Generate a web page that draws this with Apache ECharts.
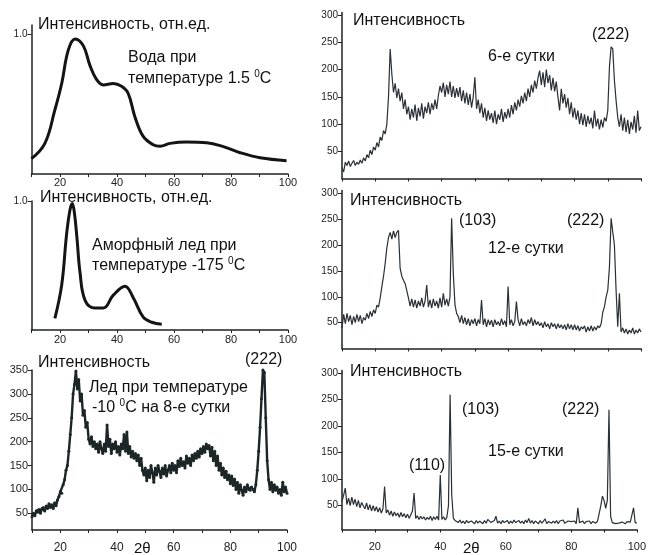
<!DOCTYPE html>
<html>
<head>
<meta charset="utf-8">
<script src="https://cdn.jsdelivr.net/npm/echarts@6/dist/echarts.min.js"></script>
<style>
  html, body { margin: 0; padding: 0; background: #fff; }
  #main { width: 649px; height: 555px; }
</style>
</head>
<body>
<div id="main"></div>
<script>
// liquid water, 1.5 C (smooth curve)
var waterX = [10, 14.7, 18.2, 20.6, 22.9, 25.3, 28.2, 30.5, 32.8, 35.2, 38.7, 41.6, 43.9, 46.3, 49.2, 52.7, 55.1, 58.6, 64.4, 71.5, 77.3, 83.2, 90.2, 99.5];
var waterY = [0.11, 0.22, 0.46, 0.65, 0.89, 0.97, 0.92, 0.78, 0.68, 0.64, 0.65, 0.63, 0.58, 0.41, 0.27, 0.21, 0.20, 0.22, 0.23, 0.225, 0.197, 0.153, 0.117, 0.096];

// amorphous ice, -175 C
var amorphX = [18.2, 20.6, 22.3, 23.5, 24.3, 25.1, 26.0, 27.0, 28.8, 32.3, 35.2, 38.7, 42.8, 45.7, 49.2, 52.2, 55.7];
var amorphY = [0.09, 0.35, 0.74, 0.93, 0.98, 0.9, 0.7, 0.45, 0.23, 0.17, 0.17, 0.27, 0.34, 0.25, 0.10, 0.06, 0.045];

// diffractograms are sampled every 0.5 deg from 10 to 100
var twoTheta = [];
for (var k = 0; k <= 180; k++) twoTheta.push(10 + k * 0.5);

// ice -10 C, 8th day
var day8 = [
  43, 50, 45, 55, 52, 58, 50, 60, 62, 55,
  65, 60, 70, 62, 68, 60, 72, 66, 78, 85,
  95, 92, 110, 120, 140, 150, 180, 215, 250, 300,
  320, 348, 310, 330, 285, 300, 255, 265, 230, 240,
  205, 195, 210, 190, 200, 185, 195, 178, 200, 185,
  175, 195, 180, 235, 190, 205, 175, 195, 185, 200,
  178, 190, 172, 195, 185, 215, 180, 220, 175, 190,
  168, 180, 165, 175, 160, 172, 150, 165, 140, 130,
  145, 118, 140, 125, 150, 135, 115, 145, 130, 150,
  138, 125, 145, 132, 150, 128, 140, 150, 135, 155,
  140, 150, 135, 160, 148, 165, 150, 158, 145, 170,
  155, 165, 150, 172, 160, 175, 165, 180, 168, 185,
  175, 190, 178, 195, 185, 192, 170, 188, 160, 180,
  150, 170, 140, 155, 130, 145, 125, 138, 120, 130,
  112, 128, 108, 122, 100, 115, 92, 110, 98, 88,
  105, 95, 110, 100, 98, 105, 100, 95, 110, 140,
  180, 230, 290, 350, 345, 250, 160, 120, 100, 115,
  95, 110, 98, 105, 92, 100, 88, 115, 95, 105,
  92
];

// 6th day
var day6 = [
  20, 12, 30, 24, 32, 22, 28, 33, 24, 30,
  26, 34, 28, 38, 32, 44, 38, 52, 44, 58,
  52, 66, 58, 76, 70, 88, 82, 100, 150, 238,
  192, 158, 175, 148, 165, 142, 158, 128, 145, 118,
  132, 108, 128, 112, 136, 106, 130, 114, 138, 110,
  132, 120, 140, 118, 138, 126, 145, 128, 152, 170,
  158, 176, 150, 172, 155, 178, 150, 170, 148, 166,
  150, 168, 142, 162, 138, 158, 135, 155, 130, 150,
  186, 128, 145, 120, 138, 112, 130, 106, 125, 108,
  120, 102, 125, 100, 118, 108, 128, 104, 122, 110,
  128, 112, 135, 118, 140, 125, 145, 132, 152, 138,
  158, 142, 165, 150, 172, 158, 180, 165, 185, 198,
  172, 195, 168, 200, 175, 190, 162, 185, 160, 178,
  150, 125, 165, 138, 155, 130, 148, 118, 140, 112,
  130, 108, 125, 100, 120, 98, 118, 95, 115, 100,
  112, 92, 125, 96, 110, 90, 108, 94, 112, 105,
  125, 205, 242, 238, 180, 143, 112, 95, 118, 88,
  112, 85, 108, 82, 104, 90, 115, 84, 125, 88,
  95
];

// 12th day
var day12 = [
  40, 66, 48, 68, 52, 64, 46, 62, 50, 66,
  52, 64, 48, 60, 55, 68, 58, 72, 62, 75,
  68, 84, 80, 98, 120, 140, 165, 195, 215, 225,
  212, 228, 215, 225, 229, 155, 140, 132, 126, 112,
  98, 82, 96, 80, 94, 78, 92, 82, 98, 80,
  92, 123, 80, 94, 78, 96, 82, 92, 78, 98,
  80, 107, 84, 96, 82, 100, 252, 146, 85, 68,
  62, 50, 64, 48, 60, 46, 58, 44, 56, 48,
  58, 44, 56, 48, 94, 46, 58, 42, 56, 46,
  55, 42, 56, 46, 52, 44, 58, 46, 54, 42,
  120, 46, 56, 44, 52, 91, 56, 44, 58, 46,
  52, 44, 56, 48, 60, 44, 56, 46, 52, 44,
  50, 40, 52, 42, 48, 38, 50, 42, 48, 38,
  48, 40, 46, 38, 46, 36, 48, 38, 46, 36,
  46, 36, 44, 34, 42, 38, 44, 32, 42, 34,
  44, 34, 42, 36, 44, 40, 48, 70, 81, 100,
  113, 158, 252, 250, 200, 113, 42, 107, 32, 40,
  30, 38, 28, 36, 30, 40, 28, 36, 30, 38,
  32
];

// 15th day
var day15 = [
  58, 70, 83, 52, 64, 50, 66, 52, 62, 48,
  60, 46, 56, 50, 44, 55, 42, 52, 40, 50,
  40, 48, 38, 46, 36, 44, 86, 36, 42, 32,
  40, 30, 38, 31, 36, 28, 37, 29, 35, 27,
  34, 26, 33, 40, 74, 26, 31, 24, 30, 25,
  29, 23, 28, 24, 30, 22, 29, 24, 30, 23,
  108, 24, 29, 23, 28, 50, 259, 70, 26, 22,
  22, 18, 23, 17, 21, 16, 22, 18, 19, 21,
  20, 16, 22, 17, 21, 18, 16, 22, 17, 24,
  27, 18, 16, 22, 30, 17, 21, 16, 22, 18,
  17, 22, 16, 21, 17, 23, 18, 16, 22, 17,
  21, 16, 23, 18, 26, 17, 22, 16, 21, 18,
  16, 22, 17, 21, 25, 16, 20, 22, 17, 21,
  17, 22, 16, 21, 18, 23, 17, 16, 21, 18,
  20, 17, 21, 16, 46, 18, 17, 21, 16, 20,
  17, 21, 16, 20, 22, 17, 21, 35, 50, 68,
  60, 45, 60, 231, 30, 18, 17, 16, 19, 17,
  16, 19, 17, 16, 20, 17, 19, 16, 46, 18,
  17
];

var countTicks = [50, 100, 150, 200, 250, 300];
var countTicksLeft = [50, 100, 150, 200, 250, 300, 350];
var relTicks = [1.0];

function pairs(xs, ys) {
  return xs.map(function (x, i) { return [x, ys[i]]; });
}

var chart = echarts.init(document.getElementById('main'));

var fontFam = '"Liberation Sans", Arial, sans-serif';
var axisCol = '#1f2326';

function xAx(idx, labels, margin, size) {
  return {
    type: 'value', gridIndex: idx, min: 10, max: 100, interval: 10,
    axisLine: { lineStyle: { color: axisCol, width: 1.5 } },
    axisTick: { length: 3, lineStyle: { color: axisCol } },
    splitLine: { show: false },
    axisLabel: {
      show: labels, margin: margin, fontSize: size || 11, color: '#222', fontFamily: fontFam,
      formatter: function (v) { return v % 20 === 0 ? String(v) : ''; }
    }
  };
}

function yAx(idx, min, max, ticks, fmt, size) {
  return {
    type: 'value', gridIndex: idx, min: min, max: max,
    axisLine: { show: true, lineStyle: { color: axisCol, width: 1.5 } },
    axisTick: { show: true, length: 4, customValues: ticks, lineStyle: { color: axisCol } },
    splitLine: { show: false },
    axisLabel: {
      customValues: ticks, margin: 4, fontSize: size || 10, color: '#222', fontFamily: fontFam,
      formatter: fmt
    }
  };
}

function txt(x, y, s, size, extra) {
  var st = { text: s, x: x, y: y, fill: '#111', font: (size || 16) + 'px ' + fontFam, verticalAlign: 'middle' };
  if (extra) st.rich = extra;
  return { type: 'text', style: st, z: 100 };
}

var sup = { s: { fontSize: 10, fontFamily: fontFam, padding: [0, 0, 10, 0], fill: '#111' } };

chart.setOption({
  animation: false,
  grid: [
    { left: 31.5, top: 25, width: 256.5, height: 149 },
    { left: 31.5, top: 201, width: 256.5, height: 129 },
    { left: 32, top: 370, width: 255, height: 160 },
    { left: 342, top: 12.5, width: 299, height: 166 },
    { left: 342, top: 190.5, width: 299, height: 158 },
    { left: 342, top: 370.5, width: 299, height: 159 }
  ],
  xAxis: [
    xAx(0, true, 3, 11),
    xAx(1, true, 4, 11),
    xAx(2, true, 12, 12),
    xAx(3, false, 3),
    xAx(4, false, 3),
    xAx(5, true, 12, 11)
  ],
  yAxis: [
    yAx(0, 0, 1.07, relTicks, function (v) { return v.toFixed(1); }, 10),
    yAx(1, 0, 1.0, relTicks, function (v) { return v.toFixed(1); }, 10),
    yAx(2, 15, 350, countTicksLeft, null, 11),
    yAx(3, 0, 305, countTicks, null, 10),
    yAx(4, 0, 306, countTicks, null, 10),
    yAx(5, 5, 305, countTicks, null, 10)
  ],
  series: [
    { type: 'line', xAxisIndex: 0, yAxisIndex: 0, data: pairs(waterX, waterY), smooth: 0.4,
      showSymbol: false, lineStyle: { color: '#141414', width: 3 } },
    { type: 'line', xAxisIndex: 1, yAxisIndex: 1, data: pairs(amorphX, amorphY), smooth: 0.4,
      showSymbol: false, lineStyle: { color: '#141414', width: 3 } },
    { type: 'line', xAxisIndex: 2, yAxisIndex: 2, data: pairs(twoTheta, day8),
      symbol: 'circle', symbolSize: 3, itemStyle: { color: '#1c2626' },
      lineStyle: { color: '#1c2626', width: 2.4 } },
    { type: 'line', xAxisIndex: 3, yAxisIndex: 3, data: pairs(twoTheta, day6),
      showSymbol: false, lineStyle: { color: '#2a3036', width: 1.2 } },
    { type: 'line', xAxisIndex: 4, yAxisIndex: 4, data: pairs(twoTheta, day12),
      showSymbol: false, lineStyle: { color: '#2a3036', width: 1.2 } },
    { type: 'line', xAxisIndex: 5, yAxisIndex: 5, data: pairs(twoTheta, day15),
      showSymbol: false, lineStyle: { color: '#2a3036', width: 1.2 } }
  ],
  graphic: [
    txt(38, 25, 'Интенсивность, отн.ед.'),
    txt(128, 58, 'Вода при'),
    txt(128, 79, 'температуре 1.5 {s|0}C', 16, sup),
    txt(40, 198, 'Интенсивность, отн.ед.'),
    txt(92, 246, 'Аморфный лед при'),
    txt(92, 266, 'температуре -175 {s|0}C', 16, sup),
    txt(38, 363, 'Интенсивность'),
    txt(89, 388, 'Лед при температуре'),
    txt(92, 408, '-10 {s|0}C на 8-е сутки', 16, sup),
    txt(245, 360, '(222)', 16),
    txt(134, 549, '2θ', 15),
    txt(353, 21, 'Интенсивность'),
    txt(488, 57, '6-е сутки'),
    txt(592, 35, '(222)'),
    txt(350, 201, 'Интенсивность'),
    txt(459, 221, '(103)'),
    txt(567, 221, '(222)'),
    txt(488, 249, '12-е сутки'),
    txt(350, 372, 'Интенсивность'),
    txt(462, 410, '(103)'),
    txt(562, 410, '(222)'),
    txt(488, 452, '15-е сутки'),
    txt(409, 466, '(110)'),
    txt(463, 549, '2θ', 15)
  ]
});
</script>
</body>
</html>
